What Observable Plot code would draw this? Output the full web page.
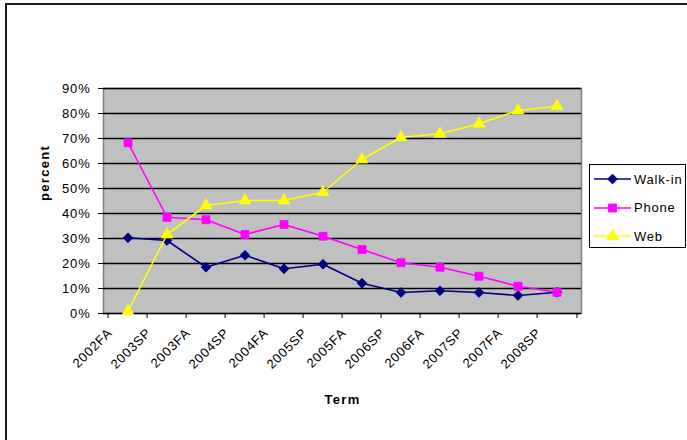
<!DOCTYPE html>
<html>
<head>
<meta charset="utf-8">
<script src="https://cdn.jsdelivr.net/npm/d3@7"></script>
<script src="https://cdn.jsdelivr.net/npm/@observablehq/plot@0.6"></script>
<style>
  html, body { margin: 0; padding: 0; background: #fff; overflow: hidden; }
  #wrap { position: relative; width: 687px; height: 440px; overflow: hidden; font-family: "Liberation Sans", Arial, sans-serif; }
  #outer { position: absolute; left: 5px; top: 3px; width: 700px; height: 460px; border-left: 2px solid #1a1a1a; border-top: 2px solid #1a1a1a; box-sizing: border-box; }
  #chart { position: absolute; left: 0; top: 0; }
  #chart svg text { letter-spacing: 0.8px; }
  #legend { position: absolute; left: 589px; top: 164px; width: 97px; height: 84px; border: 1px solid #000; box-sizing: border-box; background: #fff; }
  #legend .row { position: absolute; left: 0; height: 20px; display: flex; align-items: center; font-size: 13px; letter-spacing: 0.8px; color: #000; }
</style>
</head>
<body>
<div id="wrap">
  <div id="outer"></div>
  <div id="chart"></div>
  <div id="legend"></div>
</div>
<script>
const terms = ["2002FA","2003SP","2003FA","2004SP","2004FA","2005SP","2005FA","2006SP","2006FA","2007SP","2007FA","2008SP"];
const walkIn = [30.3, 29.2, 18.5, 23.3, 17.9, 19.7, 12.1, 8.4, 9.1, 8.4, 7.2, 8.5];
const phone  = [68.3, 38.5, 37.5, 31.6, 35.6, 30.9, 25.6, 20.3, 18.5, 14.9, 10.9, 8.5];
const web    = [0.9, 31.6, 43.2, 45.2, 45.2, 48.5, 61.6, 70.5, 71.9, 75.9, 81.2, 82.9];
const yTicks = [0, 10, 20, 30, 40, 50, 60, 70, 80, 90];
const seriesNames = ["Walk-in", "Phone", "Web"];
const seriesColors = ["#000080", "#FF00FF", "#FFFF00"];
const seriesSymbols = ["diamond2", "square", "triangle"];
const seriesR = [4.4, 4.5, 4.4];

const seriesValues = [walkIn, phone, web];
const rows = [];
seriesNames.forEach((name, s) => {
  terms.forEach((t, i) => rows.push({series: name, term: t, value: seriesValues[s][i]}));
});

const W = 687, H = 440, mL = 103, mR = 106, mT = 88, mB = 127;
const bw = (W - mL - mR) / terms.length;

const marks = [
  Plot.frame({fill: "#C0C0C0", stroke: "#808080", strokeWidth: 1.5}),
  Plot.ruleY(yTicks.filter(d => d > 0), {stroke: "#000", strokeWidth: 1.5}),
  Plot.axisY({ticks: yTicks, tickFormat: d => d + "%", tickSize: 5, tickPadding: 8, line: true, stroke: "#000", label: null, fontSize: 13}),
  Plot.ruleY([0], {stroke: "#000", strokeWidth: 1.5}),
  Plot.axisX({ticks: terms, tickSize: 5, tickFormat: () => "", dx: -bw / 2, label: null, stroke: "#000"}),
  Plot.axisX({ticks: [terms[terms.length - 1]], tickSize: 5, tickFormat: () => "", dx: bw / 2, label: null, stroke: "#000"}),
  Plot.text(terms, {x: d => d, text: d => d, frameAnchor: "bottom", rotate: -45, textAnchor: "end", dx: -15, dy: 20, fontSize: 13, fill: "#000"}),
  Plot.text(["percent"], {text: d => d, frameAnchor: "left", dx: -59, rotate: -90, fontWeight: "bold", fontSize: 13, fill: "#000"}),
  Plot.text(["Term"], {text: d => d, frameAnchor: "bottom", dy: 90, fontWeight: "bold", fontSize: 13, fill: "#000"})
];
seriesNames.forEach((name, s) => {
  const data = rows.filter(r => r.series === name);
  marks.push(Plot.line(data, {x: "term", y: "value", stroke: seriesColors[s], strokeWidth: 1.6}));
  marks.push(Plot.dot(data, {x: "term", y: "value", symbol: () => seriesSymbols[s], r: seriesR[s], fill: seriesColors[s], stroke: seriesColors[s], strokeWidth: 0.8}));
});

const chart = Plot.plot({
  width: W, height: H,
  marginLeft: mL, marginRight: mR, marginTop: mT, marginBottom: mB,
  x: {type: "band", domain: terms, padding: 0},
  y: {domain: [0, 90]},
  symbol: {type: "identity"},
  style: {fontFamily: "'Liberation Sans', Arial, sans-serif", fontSize: "13px", background: "transparent", color: "#000"},
  marks
});
document.getElementById("chart").appendChild(chart);
d3.select(chart).selectAll("text").filter(function() { return this.textContent === "percent" || this.textContent === "Term"; }).style("letter-spacing", "1.3px");

// Legend
const legend = d3.select("#legend");
const symMap = {diamond2: d3.symbolDiamond2, square: d3.symbolSquare, triangle: d3.symbolTriangle};
seriesNames.forEach((name, s) => {
  const row = legend.append("div").attr("class", "row").style("top", (4 + s * 28.5) + "px");
  const svg = row.append("svg").attr("width", 43).attr("height", 20);
  svg.append("line").attr("x1", 4).attr("x2", 41).attr("y1", 10).attr("y2", 10).attr("stroke", seriesColors[s]).attr("stroke-width", 1.6);
  svg.append("path").attr("transform", "translate(22.5,10)")
    .attr("d", d3.symbol(symMap[seriesSymbols[s]], Math.PI * seriesR[s] * seriesR[s])())
    .attr("fill", seriesColors[s]).attr("stroke", seriesColors[s]).attr("stroke-width", 0.8);
  row.append("span").text(name).style("margin-left", "1px");
});
</script>
</body>
</html>
